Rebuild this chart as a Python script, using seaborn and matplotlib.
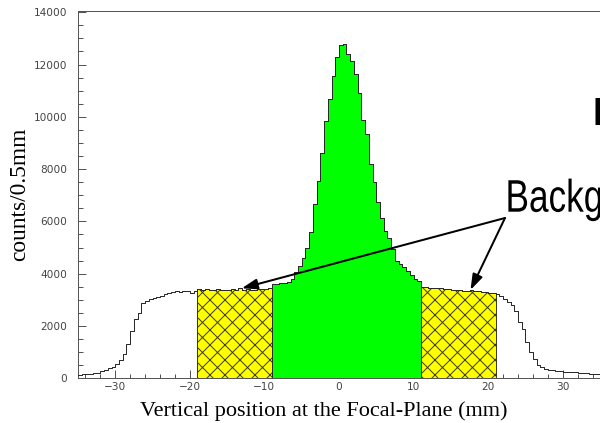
import numpy as np
import pandas as pd
import matplotlib
matplotlib.use("Agg")
import matplotlib.pyplot as plt
import matplotlib.patheffects as pe
from matplotlib.transforms import Affine2D
from matplotlib.ticker import MultipleLocator
import seaborn as sns

# ---------------- data (counts per 0.5 mm bin) ----------------
bin_start = -35.0
bin_width = 0.5

# -35.0 ... -19.5
left_tail = [130, 150, 170, 180, 190, 220, 290, 310, 380, 430,
             540, 690, 920, 1300, 1790, 2270, 2500, 2880, 2970, 3050,
             3080, 3110, 3150, 3240, 3280, 3310, 3340, 3310, 3350, 3340,
             3270, 3330]
# -19.0 ... -9.5  (background window, hatched yellow)
left_sideband = [3410, 3380, 3400, 3380, 3360, 3400, 3390, 3370, 3380, 3400,
                 3360, 3460, 3380, 3400, 3390, 3380, 3400, 3410, 3420, 3450]
# -9.0 ... 10.5  (signal window, green)
signal_region = [3590, 3610, 3640, 3660, 3700, 3780, 4050, 4300, 4600, 5000,
                 5580, 6670, 7560, 8600, 9830, 10680, 11580, 12280, 12730, 12780,
                 12400, 12140, 11630, 10900, 9870, 9360, 8200, 7500, 6730, 6150,
                 5640, 5350, 4960, 4500, 4370, 4250, 4100, 3950, 3800, 3740]
# 11.0 ... 20.5  (background window, hatched yellow)
right_sideband = [3500, 3490, 3470, 3470, 3440, 3450, 3420, 3400, 3390, 3380,
                  3370, 3350, 3340, 3390, 3330, 3320, 3300, 3310, 3280, 3270]
# 21.0 ... 34.5
right_tail = [3240, 3150, 3050, 2900, 2800, 2560, 2150, 1900, 1400, 1020,
              720, 510, 420, 370, 330, 300, 290, 280, 260, 240,
              240, 230, 210, 190, 190, 170, 160, 150]

x_ticks = [-30, -20, -10, 0, 10, 20, 30]
y_ticks = [0, 2000, 4000, 6000, 8000, 10000, 12000, 14000]
x_label = "Vertical position at the Focal-Plane (mm)"
y_label = "counts/0.5mm"
bg_text = "Background"
peak_text = "Peak"

counts = np.array(left_tail + left_sideband + signal_region + right_sideband + right_tail, float)
edges = bin_start + bin_width * np.arange(len(counts) + 1)
centers = edges[:-1] + bin_width / 2
df = pd.DataFrame({"position": centers, "counts": counts})

# ---------------- figure ----------------
sns.set_style("ticks")
DPI = 45
W, H = 600, 423
fig = plt.figure(figsize=((W + 0.01) / DPI, (H + 0.01) / DPI), dpi=DPI)
fig.patch.set_facecolor("white")


def pt(pixels):
    return pixels * 72.0 / DPI


plt.rcParams["hatch.linewidth"] = pt(1.0)

y0, y1 = 378.3, 10.7
ax = fig.add_axes([78 / W, (H - y0) / H, 522 / W, (y0 - y1) / H])
ax.set_facecolor("white")


def fill_region(i0, i1, **kw):
    xs = edges[i0:i1 + 1]
    ys = np.append(counts[i0:i1], counts[i1 - 1])
    ax.fill_between(xs, 0, ys, step="post", zorder=1, **kw)


n1 = len(left_tail)
n2 = n1 + len(left_sideband)
n3 = n2 + len(signal_region)
n4 = n3 + len(right_sideband)

yellow_kw = dict(facecolor="#ffff00", edgecolor="#3c3c10", hatch="x", linewidth=pt(1.0))
fill_region(n1, n2, **yellow_kw)
fill_region(n2, n3, facecolor="#00ff00", edgecolor="#2a2a2a", linewidth=pt(1.0))
fill_region(n3, n4, **yellow_kw)

sns.histplot(data=df, x="position", weights="counts", binwidth=bin_width,
             binrange=(edges[0], edges[-1]), element="step", fill=False,
             color="#2a2a2a", linewidth=pt(1.0), ax=ax, zorder=3)

ax.set_xlim(-35, 35)
ax.set_ylim(0, 14060)
ax.set_xticks(x_ticks)
ax.set_yticks(y_ticks)
ax.xaxis.set_minor_locator(MultipleLocator(2))
ax.yaxis.set_minor_locator(MultipleLocator(500))
ax.set_xlabel("")
ax.set_ylabel("")

spine_col = "#555555"
for s in ["left", "bottom", "top"]:
    ax.spines[s].set_visible(True)
    ax.spines[s].set_color(spine_col)
    ax.spines[s].set_linewidth(pt(1.0))
ax.spines["right"].set_visible(False)

ax.tick_params(which="both", direction="in", top=False, right=False,
               color=spine_col, width=pt(1.0), labelcolor="#444444")
ax.tick_params(which="major", length=pt(8))
ax.tick_params(which="minor", length=pt(4.5))
ax.tick_params(axis="x", which="major", pad=pt(4), labelsize=pt(10.5))
ax.tick_params(axis="y", which="major", pad=pt(11), labelsize=pt(10.5))
for lab in ax.get_xticklabels() + ax.get_yticklabels():
    lab.set_family("DejaVu Sans")

# axis titles
fig.text(324 / W, (H - 415.5) / H, x_label, ha="center", va="baseline",
         family=["Liberation Serif", "DejaVu Serif"], size=pt(22.3), color="black")
fig.text(19.5 / W, (H - 194.5) / H, y_label, ha="center", va="center", rotation=90,
         family=["Liberation Serif", "DejaVu Serif"], size=pt(23.5), color="black")


class Condensed(pe.AbstractPathEffect):
    """Draw the text horizontally narrowed about a fixed x (display pixels)."""

    def __init__(self, sx, x0):
        super().__init__()
        self.sx = sx
        self.x0 = x0

    def draw_path(self, renderer, gc, tpath, affine, rgbFace=None):
        aff = affine + Affine2D().translate(-self.x0, 0).scale(self.sx, 1).translate(self.x0, 0)
        renderer.draw_path(gc, tpath, aff, rgbFace)


# annotations
bg_x = 505.5
fig.text(bg_x / W, (H - 211.7) / H, bg_text, ha="left", va="baseline",
         family=["Liberation Sans", "DejaVu Sans"], size=pt(45.7), color="black",
         path_effects=[Condensed(0.77, bg_x)])
fig.text(592.5 / W, (H - 125) / H, peak_text, ha="left", va="baseline", weight="bold",
         family=["Liberation Sans", "DejaVu Sans"], size=pt(37.7), color="black")

start = (505, H - 218)
for tip in [(241.7, H - 288.3), (470.5, H - 290)]:
    ax.annotate("", xy=tip, xycoords="figure pixels", xytext=start,
                textcoords="figure pixels",
                arrowprops=dict(arrowstyle="-|>,head_length=2.1,head_width=0.7",
                                mutation_scale=10, color="black", lw=pt(2.0),
                                shrinkA=0, shrinkB=0),
                annotation_clip=False, zorder=5)

fig.savefig("out.png", dpi=DPI, facecolor="white")
